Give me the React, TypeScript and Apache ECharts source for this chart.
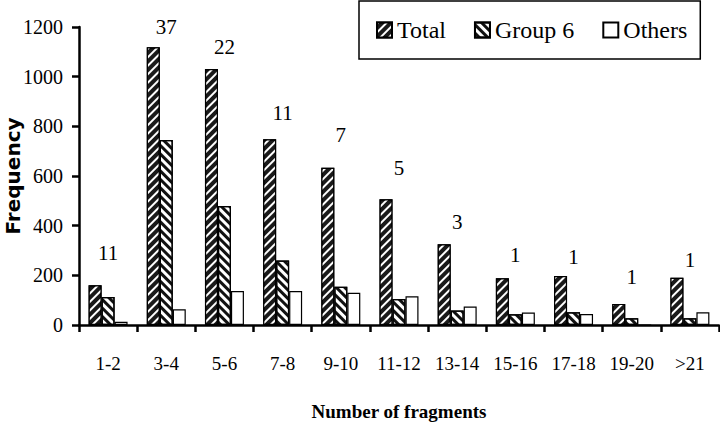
import React, { useEffect, useRef } from "react";
import * as echarts from "echarts";

const categories = ["1-2", "3-4", "5-6", "7-8", "9-10", "11-12", "13-14", "15-16", "17-18", "19-20", ">21"];
const totalValues = [160, 1118, 1031, 748, 633, 506, 325, 188, 197, 85, 190];
const group6Values = [113, 745, 479, 260, 154, 105, 58, 43, 51, 27, 27];
const othersValues = [13, 63, 137, 137, 130, 116, 74, 50, 44, 0, 51];
const countLabels = [11, 37, 22, 11, 7, 5, 3, 1, 1, 1, 1];
const countLabelY = [290, 1200, 1120, 854, 765, 632, 415, 282, 274, 193, 262];
const yTicks = { min: 0, max: 1200, interval: 200 };

const SERIF = "'Liberation Serif', 'Times New Roman', serif";

export default function App() {
  const ref = useRef<HTMLDivElement>(null);
  useEffect(() => {
    if (!ref.current) return;
    const chart = echarts.init(ref.current, null, { renderer: "svg" });
    const barBase = {
      type: "bar",
      barGap: "0%",
      barCategoryGap: "33%",
    };
    chart.setOption({
      animation: false,
      backgroundColor: "#fff",
      grid: { left: 79, right: 1, top: 27, bottom: 99, containLabel: false, outerBoundsMode: "none" },
      legend: {
        data: ["Total", "Group 6", "Others"],
        left: 359,
        top: 1,
        padding: [17, 13, 17, 17],
        itemGap: 28,
        itemWidth: 15,
        itemHeight: 15,
        icon: "rect",
        borderColor: "#000",
        borderWidth: 1.5,
        textStyle: { fontFamily: SERIF, fontSize: 24, color: "#000" },
      },
      xAxis: {
        type: "category",
        data: categories,
        boundaryGap: true,
        name: "Number of fragments",
        nameLocation: "middle",
        nameGap: 77,
        nameMoveOverlap: false,
        nameTextStyle: { fontFamily: SERIF, fontSize: 19, fontWeight: "bold", color: "#000" },
        axisLine: { lineStyle: { color: "#000", width: 2.5 } },
        axisTick: { show: true, length: 7, lineStyle: { color: "#000", width: 2.5 } },
        axisLabel: { fontFamily: SERIF, fontSize: 19, color: "#000", margin: 29, interval: 0 },
        splitLine: { show: false },
      },
      yAxis: {
        type: "value",
        min: yTicks.min,
        max: yTicks.max,
        interval: yTicks.interval,
        name: "Frequency",
        nameLocation: "middle",
        nameRotate: 90,
        nameGap: 56,
        nameMoveOverlap: false,
        nameTextStyle: { fontFamily: "'DejaVu Sans', sans-serif", fontSize: 20, fontWeight: "bold", color: "#000" },
        axisLine: { show: true, lineStyle: { color: "#000", width: 2.5 } },
        axisTick: { show: true, length: 7, lineStyle: { color: "#000", width: 2.5 } },
        axisLabel: {
          fontFamily: SERIF,
          fontSize: 20,
          color: "#000",
          margin: 16,
          formatter: (v: number) => String(v),
        },
        splitLine: { show: false },
      },
      series: [
        {
          ...barBase,
          name: "Total",
          data: totalValues,
          itemStyle: {
            color: "#1a1a1a",
            borderColor: "#000",
            borderWidth: 1.2,
            decal: {
              symbol: "rect",
              color: "#ffffff",
              backgroundColor: null,
              dashArrayX: [1, 0],
              dashArrayY: [2, 4],
              rotation: -Math.PI / 4,
            },
          },
        },
        {
          ...barBase,
          name: "Group 6",
          data: group6Values,
          itemStyle: {
            color: "#ffffff",
            borderColor: "#000",
            borderWidth: 1.2,
            decal: {
              symbol: "rect",
              color: "#111111",
              backgroundColor: null,
              dashArrayX: [1, 0],
              dashArrayY: [3, 3],
              rotation: Math.PI / 4,
            },
          },
        },
        {
          ...barBase,
          name: "Others",
          data: othersValues,
          itemStyle: { color: "#ffffff", borderColor: "#000", borderWidth: 1.2 },
        },
        {
          type: "scatter",
          name: "counts",
          symbolSize: 0,
          itemStyle: { color: "#000", opacity: 1 },
          data: categories.map((c, i) => [c, countLabelY[i], countLabels[i]]),
          label: {
            show: true,
            position: "inside",
            formatter: (p: any) => String(p.value[2]),
            fontFamily: SERIF,
            fontSize: 21,
            color: "#000",
            opacity: 1,
          },
          silent: true,
        },
      ],
    });
    return () => chart.dispose();
  }, []);
  return <div ref={ref} style={{ width: 720, height: 424, position: "absolute", left: 0, top: 0 }} />;
}
